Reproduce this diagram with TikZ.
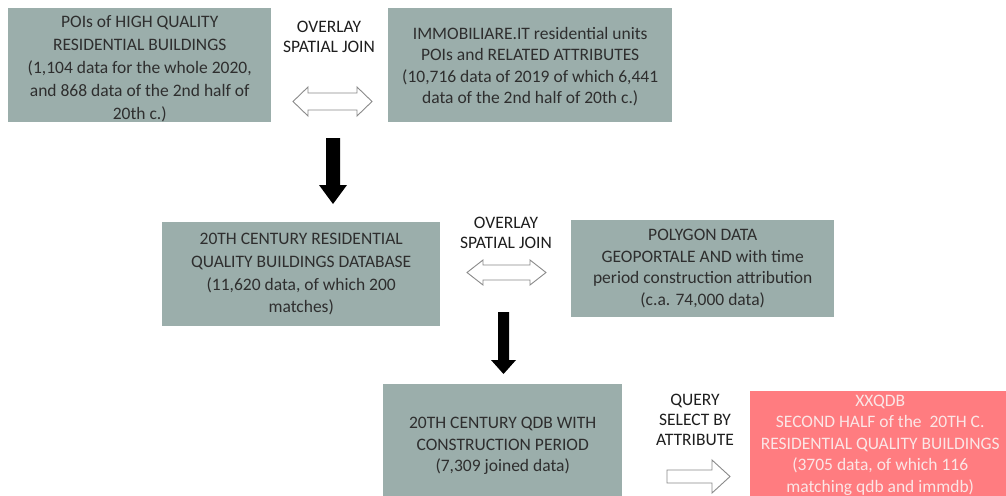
\documentclass[tikz,border=0pt]{standalone}
\usepackage{fontspec}
\setmainfont{Carlito}
\definecolor{boxgray}{HTML}{9BAEAB}
\definecolor{boxtext}{HTML}{2E2E2E}
\definecolor{labtext}{HTML}{1E1E1E}
\definecolor{redbox}{HTML}{FF7C80}
\definecolor{redtext}{HTML}{FBE6E6}
\definecolor{outl}{HTML}{8A8A8A}
\begin{document}
\begin{tikzpicture}[x=1pt,y=-1pt,
  txt/.style={font=\fontsize{17.5}{22.8}\selectfont, align=center, inner sep=0pt},
  box/.style={fill=boxgray, inner sep=0pt, anchor=north west},
  rbox/.style={fill=redbox, inner sep=0pt, anchor=north west},
  btxt/.style={txt, text=boxtext},
  rtxt/.style={txt, text=redtext, font=\fontsize{17.5}{21.5}\selectfont},
  lab/.style={txt, text=labtext, font=\fontsize{17.5}{20}\selectfont},
  harrow/.style={draw=outl, fill=white, line width=0.9pt, line join=miter},
  barrow/.style={fill=black}]
\useasboundingbox (0,0) rectangle (1006,495);
\clip (0,0) rectangle (1006,495);
\fill[white] (0,0) rectangle (1006,495);

% boxes
\node[box, minimum width=263pt, minimum height=114pt] (b1) at (8,8) {};
\node[box, minimum width=284pt, minimum height=114pt] (b2) at (388,8) {};
\node[box, minimum width=278pt, minimum height=104pt] (b3) at (162,222) {};
\node[box, minimum width=263pt, minimum height=97pt] (b4) at (571,220) {};
\node[box, minimum width=239pt, minimum height=124pt] (b5) at (383,384) {};
\node[rbox, minimum width=260pt, minimum height=110pt] (b6) at (750,391) {};

% box texts
\node[btxt] (t1) at ([yshift=-3.5pt]b1.center)
  {POIs of HIGH QUALITY\\RESIDENTIAL BUILDINGS\\(1,104 data for the whole 2020,\\and 868 data of the 2nd half of\\20th c.)};
\node[btxt, font=\fontsize{17.5}{21.5}\selectfont] (t2) at ([yshift=-1.5pt]b2.center)
  {IMMOBILIARE.IT residential units\\POIs and RELATED ATTRIBUTES\\(10,716 data of 2019 of which 6,441\\data of the 2nd half of 20th c.)};
\node[btxt] (t3) at (b3.center)
  {20TH CENTURY RESIDENTIAL\\QUALITY BUILDINGS DATABASE\\(11,620 data, of which 200\\matches)};
\node[btxt, font=\fontsize{17.5}{21.5}\selectfont] (t4) at (b4.center)
  {POLYGON DATA\\GEOPORTALE AND with time\\period construction attribution\\(c.a. 74,000 data)};
\node[btxt, font=\fontsize{17.5}{21.5}\selectfont] (t5) at (b5.center)
  {20TH CENTURY QDB WITH\\CONSTRUCTION PERIOD\\(7,309 joined data)};
\node[rtxt] (t6) at ([yshift=1pt]b6.center)
  {XXQDB\\SECOND HALF of the~ 20TH C.\\RESIDENTIAL QUALITY BUILDINGS\\(3705 data, of which 116\\matching qdb and immdb)};

% operation labels
\node[lab] (l1) at (329,37) {OVERLAY\\SPATIAL JOIN};
\node[lab] (l2) at (506,233) {OVERLAY\\SPATIAL JOIN};
\node[lab] (l3) at (695,420) {QUERY\\SELECT BY\\ATTRIBUTE};

% hollow double arrows
\draw[harrow] (293,101.5) -- (308,87) -- (308,93) -- (357,93) -- (357,87) -- (372,101.5)
  -- (357,116) -- (357,110) -- (308,110) -- (308,116) -- cycle;
\draw[harrow] (467,272.5) -- (483,260) -- (483,265) -- (530,265) -- (530,260) -- (546,272.5)
  -- (530,285) -- (530,280) -- (483,280) -- (483,285) -- cycle;
% hollow right arrow
\draw[harrow] (667,470) -- (712,470) -- (712,460) -- (730,476.5) -- (712,493) -- (712,483)
  -- (667,483) -- cycle;
% black down arrows
\fill[barrow] (326,138) -- (340,138) -- (340,185) -- (347,185) -- (333,204) -- (319,185)
  -- (326,185) -- cycle;
\fill[barrow] (498,312) -- (509,312) -- (509,360) -- (516,360) -- (503.5,374) -- (491,360)
  -- (498,360) -- cycle;
\end{tikzpicture}
\end{document}
